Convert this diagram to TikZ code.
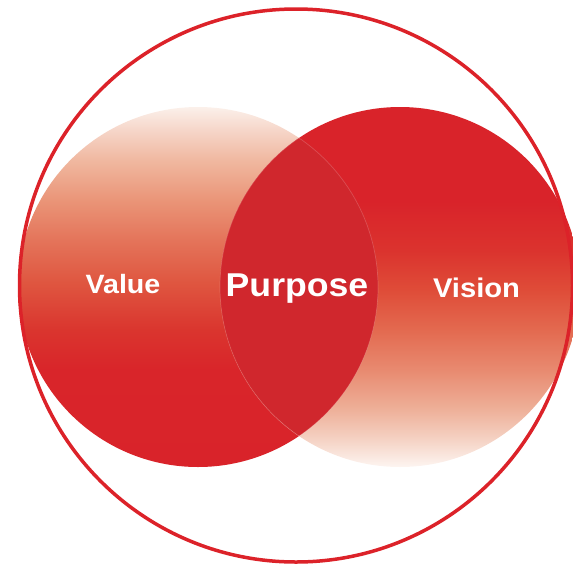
\documentclass[tikz,border=0pt]{standalone}
\usepackage{fontspec}
\setmainfont{Liberation Sans}
\definecolor{ringred}{HTML}{DC2229}
\definecolor{purposered}{HTML}{D0272D}
\definecolor{va}{HTML}{FBF0EA}
\definecolor{vb}{HTML}{F6D6C9}
\definecolor{vc}{HTML}{F0B8A0}
\definecolor{vd}{HTML}{EA9578}
\definecolor{ve}{HTML}{E4745A}
\definecolor{vf}{HTML}{DF5640}
\definecolor{vg}{HTML}{DA352E}
\definecolor{vh}{HTML}{D9252A}
\definecolor{vi}{HTML}{D9232A}
\definecolor{wa}{HTML}{D9232A}
\definecolor{wb}{HTML}{DB332E}
\definecolor{wc}{HTML}{DF4C38}
\definecolor{wd}{HTML}{E36A50}
\definecolor{we}{HTML}{E88A70}
\definecolor{wf}{HTML}{EEB099}
\definecolor{wg}{HTML}{F5D3C5}
\definecolor{wh}{HTML}{FDF5F1}
\pgfdeclareverticalshading{valueshade}{100bp}{color(0bp)=(vi); color(25bp)=(vi); color(38.5bp)=(vh); color(44bp)=(vg); color(50.6bp)=(vf); color(56.5bp)=(ve); color(62.1bp)=(vd); color(67.6bp)=(vc); color(71.8bp)=(vb); color(75bp)=(va); color(100bp)=(va)}
\pgfdeclareverticalshading{visionshade}{100bp}{color(0bp)=(wh); color(25bp)=(wh); color(28.75bp)=(wg); color(33bp)=(wf); color(38.5bp)=(we); color(44bp)=(wd); color(49.6bp)=(wc); color(55.1bp)=(wb); color(62bp)=(wa); color(75bp)=(wa); color(100bp)=(wa)}
\begin{document}
\begin{tikzpicture}[x=1pt,y=-1pt,
  disc/.style={circle, inner sep=0pt, outer sep=0pt, minimum size=360pt},
  seam/.style={draw=white, draw opacity=0.18, line width=0.7pt},
  lbl/.style={text=white, font=\bfseries, anchor=base, inner sep=0pt, xscale=1.08}]
\useasboundingbox (0,0) rectangle (573,568);
\clip (0,0) rectangle (573,568);
\node[disc, shading=valueshade] (value) at (198,287) {};
\node[disc, shading=visionshade] (vision) at (400,287) {};
\begin{scope}
  \clip (value.center) circle (180pt);
  \fill[purposered] (vision.center) circle (180pt);
\end{scope}
\begin{scope}
  \clip (vision.center) circle (180pt);
  \draw[seam] (value.center) circle (180pt);
\end{scope}
\begin{scope}
  \clip (value.center) circle (180pt);
  \draw[seam] (vision.center) circle (180pt);
\end{scope}
\node[circle, draw=ringred, line width=3.5pt, minimum size=553pt, inner sep=0pt, outer sep=0pt] (ring) at (296,285.5) {};
\node[lbl, font=\bfseries\fontsize{26.5}{30}\selectfont] (valuetext) at (123,293) {Value};
\node[lbl, font=\bfseries\fontsize{33}{38}\selectfont] (purposetext) at (297,296) {Purpose};
\node[lbl, font=\bfseries\fontsize{27}{30}\selectfont] (visiontext) at (476.5,297) {Vision};
\end{tikzpicture}
\end{document}
